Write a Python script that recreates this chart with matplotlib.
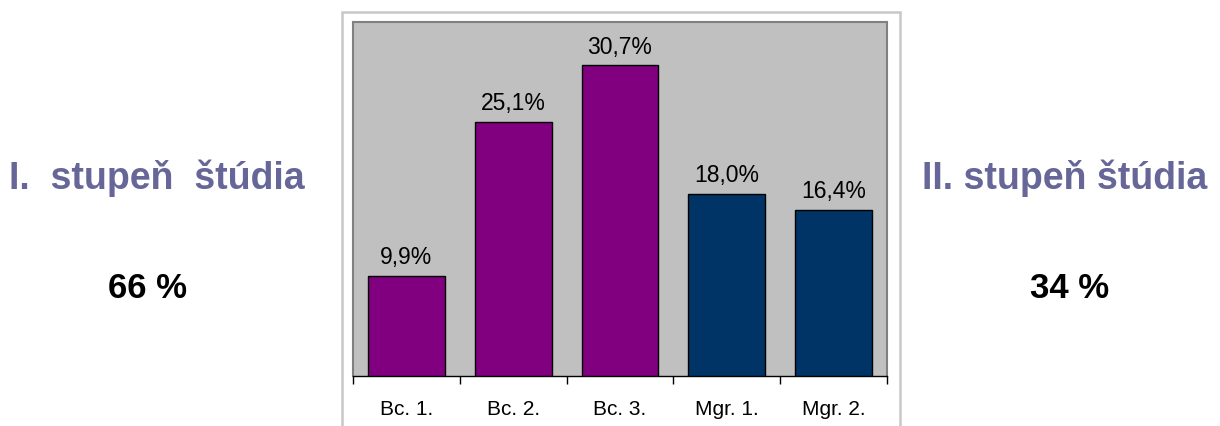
import matplotlib
matplotlib.use("Agg")
import matplotlib.pyplot as plt
from matplotlib.patches import Rectangle

categories = ["Bc. 1.", "Bc. 2.", "Bc. 3.", "Mgr. 1.", "Mgr. 2."]
values = [9.9, 25.1, 30.7, 18.0, 16.4]
value_labels = ["9,9%", "25,1%", "30,7%", "18,0%", "16,4%"]
bar_colors = ["#800080", "#800080", "#800080", "#003366", "#003366"]
left_title = "I.  stupeň  štúdia"
left_share = "66 %"
right_title = "II. stupeň štúdia"
right_share = "34 %"

plt.rcParams['font.family'] = ['Liberation Sans', 'DejaVu Sans']

W, H = 1220, 426
fig = plt.figure(figsize=(W / 100, H / 100), dpi=100)
fig.patch.set_facecolor("white")

# outer chart frame
fig.patches.append(Rectangle((342 / W, -0.05), (900 - 342) / W, (H - 12) / H + 0.05,
                             transform=fig.transFigure, fill=False,
                             edgecolor="#c8c8c8", linewidth=1.8, zorder=0))

ax = fig.add_axes([353 / W, (H - 376) / H, (887 - 353) / W, (376 - 22) / H])
ax.set_facecolor("#c0c0c0")
x = list(range(len(categories)))
ax.bar(x, values, width=0.72, color=bar_colors, edgecolor="black", linewidth=1.0, zorder=3)
ax.set_xlim(-0.5, len(categories) - 0.5)
ax.set_ylim(0, 35)

for xi, v, lab in zip(x, values, value_labels):
    ax.annotate(lab, (xi, v), xytext=(0, 5), textcoords="offset points",
                ha="center", va="bottom", fontsize=16.5, color="black")

ax.set_yticks([])
ax.set_xticks([i - 0.5 for i in range(len(categories) + 1)])
ax.set_xticklabels([])
ax.tick_params(axis="x", which="major", direction="out", length=6, width=1, color="black")
ax.set_xticks(x, minor=True)
ax.set_xticklabels(categories, minor=True, fontsize=15)
ax.tick_params(axis="x", which="minor", length=0, pad=17)

for s in ["top", "right", "left"]:
    ax.spines[s].set_color("#808080")
    ax.spines[s].set_linewidth(1.5)
ax.spines["bottom"].set_color("black")
ax.spines["bottom"].set_linewidth(1.0)

title_color = "#666699"
fig.text(157 / W, 1 - 178 / H, left_title, ha="center", va="center",
         fontsize=27, fontweight="bold", color=title_color)
fig.text(148 / W, 1 - 288 / H, left_share, ha="center", va="center",
         fontsize=25, fontweight="bold", color="black")
fig.text(1065 / W, 1 - 178 / H, right_title, ha="center", va="center",
         fontsize=27, fontweight="bold", color=title_color)
fig.text(1070 / W, 1 - 288 / H, right_share, ha="center", va="center",
         fontsize=25, fontweight="bold", color="black")

fig.savefig("out.png", dpi=100, facecolor="white")
